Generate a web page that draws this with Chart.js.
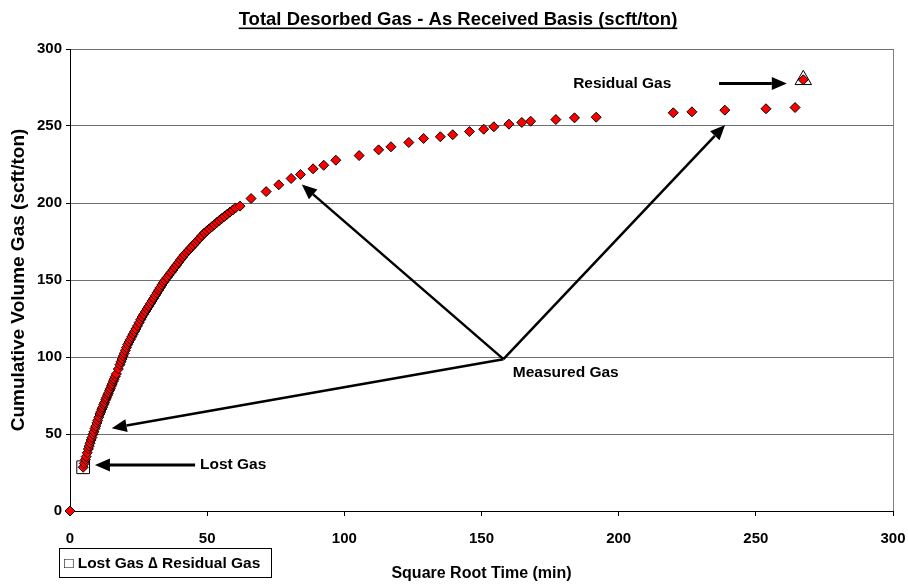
<!DOCTYPE html>
<html lang="en">
<head>
  <meta charset="UTF-8">
  <title>Total Desorbed Gas</title>
  <script src="https://cdn.jsdelivr.net/npm/chart.js"></script>
  <style>
    html, body { margin: 0; padding: 0; background: #fff; }
    #wrap { width: 908px; height: 588px; }
  </style>
</head>
<body>
<div id="wrap"><canvas id="gasChart" width="908" height="588"></canvas></div>

<script>
  // square root of time (min) and cumulative gas (scft/ton)
  const sqrtTime = [
    0, 4.8, 5.2, 5.6, 5.9, 6.3, 6.7, 7.0, 7.3, 7.7,
    8.0, 8.4, 8.7, 9.1, 9.4, 9.8, 10.1, 10.5, 10.9, 11.2,
    11.6, 11.9, 12.3, 12.6, 13.0, 13.3, 13.7, 14.0, 14.4, 14.7,
    15.1, 15.4, 15.8, 16.1, 16.5, 16.9, 17.6, 18.2, 18.6, 19.0,
    19.4, 19.8, 20.2, 20.6, 21.0, 21.5, 22.0, 22.5, 23.0, 23.5,
    24.0, 24.6, 25.2, 25.8, 26.3, 26.9, 27.5, 28.1, 28.7, 29.3,
    29.9, 30.5, 31.1, 31.7, 32.3, 32.9, 33.5, 34.1, 34.7, 35.4,
    36.1, 36.8, 37.5, 38.2, 38.9, 39.6, 40.3, 41.0, 41.7, 42.5,
    43.3, 44.1, 44.9, 45.7, 46.5, 47.3, 48.1, 49.0, 49.9, 50.8,
    51.7, 52.6, 53.5, 54.4, 55.3, 56.3, 57.3, 58.3, 59.3, 60.3,
    62.0, 66.0, 71.5, 76.1, 80.6, 84.0, 88.6, 92.5, 96.9, 105.4,
    112.5, 117.0, 123.5, 128.9, 135.0, 139.5, 145.6, 150.8, 154.5, 160.0,
    164.7, 167.9, 177.1, 183.9, 191.8, 219.9, 226.7, 238.7, 253.7, 264.3,
    267.3
  ];
  const gasVolume = [
    0, 28.4, 30.9, 33.4, 35.3, 37.8, 40.3, 42.1, 44.0, 46.1,
    47.7, 49.8, 51.4, 53.5, 55.1, 57.2, 58.8, 60.9, 63.0, 64.3,
    66.1, 67.4, 69.1, 70.4, 72.2, 73.5, 75.2, 76.5, 78.2, 79.5,
    81.2, 82.5, 84.3, 85.6, 87.3, 89.0, 92.2, 95.0, 96.9, 98.7,
    100.6, 102.4, 104.3, 106.1, 108.0, 109.7, 111.4, 113.1, 114.8, 116.5,
    118.2, 120.2, 122.3, 124.3, 126.0, 127.7, 129.5, 131.2, 132.9, 134.7,
    136.4, 138.1, 139.9, 141.6, 143.4, 145.1, 146.8, 148.5, 149.9, 151.6,
    153.2, 154.9, 156.5, 158.2, 159.8, 161.5, 163.2, 164.8, 166.4, 167.9,
    169.5, 171.0, 172.6, 174.1, 175.7, 177.2, 178.8, 180.5, 181.9, 183.2,
    184.6, 185.9, 187.3, 188.6, 189.9, 191.3, 192.7, 194.1, 195.4, 196.8,
    198.0, 202.9, 207.4, 211.8, 215.9, 218.5, 222.2, 224.5, 227.8, 230.8,
    234.5, 236.5, 239.3, 241.9, 243.0, 244.3, 246.4, 247.9, 249.5, 251.2,
    252.3, 253.1, 254.2, 255.3, 255.7, 258.6, 259.2, 260.3, 261.2, 262.0,
    280.0
  ];
  const lostGasX = [4.8];
  const lostGasY = [28.4];
  const residualGasX = [267.3];
  const residualGasY = [280.0];
  const xTicks = [0, 50, 100, 150, 200, 250, 300];
  const yTicks = [0, 50, 100, 150, 200, 250, 300];

  const FONT = "'Liberation Sans', Arial, sans-serif";

  // text + arrows drawn over the plot (positions in data units)
  const notes = {
    lost: { text: 'Lost Gas', at: [47.4, 29.9], from: [45.6, 29.9], to: [9.1, 29.9] },
    residual: { text: 'Residual Gas', at: [183.4, 277.6], from: [236.6, 277.6], to: [261.3, 277.6] },
    measured: { text: 'Measured Gas', at: [161.4, 89.7], hub: [158, 98.6],
      tips: [[15.2, 53.8], [84.5, 212], [238.8, 250.7]] }
  };

  function toPts(xs, ys) {
    return xs.map((x, i) => ({ x: x, y: ys[i] }));
  }

  function arrow(ctx, x1, y1, x2, y2, lw, hl, hw) {
    const a = Math.atan2(y2 - y1, x2 - x1);
    const bx = x2 - Math.cos(a) * hl, by = y2 - Math.sin(a) * hl;
    ctx.lineWidth = lw;
    ctx.beginPath();
    ctx.moveTo(x1, y1);
    ctx.lineTo(bx, by);
    ctx.stroke();
    ctx.beginPath();
    ctx.moveTo(x2, y2);
    ctx.lineTo(bx - Math.sin(a) * hw, by + Math.cos(a) * hw);
    ctx.lineTo(bx + Math.sin(a) * hw, by - Math.cos(a) * hw);
    ctx.closePath();
    ctx.fill();
  }

  const extras = {
    id: 'extras',
    afterDraw(chart) {
      const ctx = chart.ctx, xs = chart.scales.x, ys = chart.scales.y;
      const px = v => xs.getPixelForValue(v), py = v => ys.getPixelForValue(v);
      ctx.save();
      ctx.fillStyle = '#000';
      ctx.strokeStyle = '#000';

      // title, underlined
      const title = 'Total Desorbed Gas - As Received Basis (scft/ton)';
      ctx.font = 'bold 18.5px ' + FONT;
      ctx.textAlign = 'center';
      ctx.textBaseline = 'alphabetic';
      const tw = ctx.measureText(title).width;
      ctx.fillText(title, 458, 25);
      ctx.fillRect(458 - tw / 2, 27.5, tw, 1.6);

      // annotations
      ctx.font = 'bold 15.5px ' + FONT;
      ctx.textAlign = 'left';
      ctx.textBaseline = 'middle';
      const l = notes.lost, r = notes.residual, m = notes.measured;
      ctx.fillText(l.text, px(l.at[0]), py(l.at[1]));
      arrow(ctx, px(l.from[0]), py(l.from[1]), px(l.to[0]), py(l.to[1]), 3, 15, 6.5);
      ctx.fillText(r.text, px(r.at[0]), py(r.at[1]));
      arrow(ctx, px(r.from[0]), py(r.from[1]), px(r.to[0]), py(r.to[1]), 3, 15, 6.5);
      ctx.fillText(m.text, px(m.at[0]), py(m.at[1]));
      m.tips.forEach(t => {
        arrow(ctx, px(m.hub[0]), py(m.hub[1]), px(t[0]), py(t[1]), 2.5, 15, 6.5);
      });

      // legend box
      ctx.fillStyle = '#fff';
      ctx.fillRect(59.5, 548.5, 212, 29);
      ctx.lineWidth = 1;
      ctx.strokeRect(59.5, 548.5, 212, 29);
      ctx.fillStyle = '#000';
      ctx.font = 'bold 15.5px ' + FONT;
      ctx.textAlign = 'left';
      ctx.fillText('\u25A1 Lost Gas \u2206 Residual Gas', 64, 563.5);
      ctx.restore();
    }
  };

  new Chart(document.getElementById('gasChart').getContext('2d'), {
    type: 'scatter',
    data: {
      datasets: [
        {
          label: 'Measured Gas',
          data: toPts(sqrtTime, gasVolume),
          pointStyle: 'rectRot',
          pointRadius: 5,
          pointBackgroundColor: '#ff0000',
          pointBorderColor: '#000',
          pointBorderWidth: 1,
          clip: false,
          order: 0
        },
        {
          label: 'Lost Gas',
          data: toPts(lostGasX, lostGasY),
          pointStyle: 'rect',
          pointRadius: 9,
          pointBackgroundColor: '#fff',
          pointBorderColor: '#000',
          pointBorderWidth: 1,
          order: 1
        },
        {
          label: 'Residual Gas',
          data: toPts(residualGasX, residualGasY),
          pointStyle: 'triangle',
          pointRadius: 9.5,
          pointBackgroundColor: '#fff',
          pointBorderColor: '#000',
          pointBorderWidth: 1,
          order: 1
        }
      ]
    },
    options: {
      responsive: false,
      animation: false,
      layout: { padding: { top: 49, right: 15, left: 0, bottom: 0 } },
      plugins: {
        legend: { display: false },
        tooltip: { enabled: false },
        title: { display: false }
      },
      scales: {
        x: {
          type: 'linear',
          min: 0,
          max: 300,
          afterFit: s => { s.height = 77; s.paddingLeft = 0; s.paddingRight = 0; },
          afterBuildTicks: s => { s.ticks = xTicks.map(v => ({ value: v })); },
          grid: {
            color: c => (c.tick && c.tick.value === 300 ? '#808080' : 'rgba(0,0,0,0)'),
            tickColor: '#000',
            tickLength: 5,
            drawOnChartArea: true
          },
          border: { color: '#000', width: 1 },
          ticks: { color: '#000', padding: 14, font: { family: FONT, size: 15, weight: 'bold' } },
          title: {
            display: true,
            text: 'Square Root Time (min)',
            color: '#000',
            padding: { top: 0, bottom: 5 },
            font: { family: FONT, size: 16, weight: 'bold' }
          }
        },
        y: {
          type: 'linear',
          min: 0,
          max: 300,
          afterFit: s => { s.width = 70; s.paddingTop = 0; s.paddingBottom = 0; },
          afterBuildTicks: s => { s.ticks = yTicks.map(v => ({ value: v })); },
          grid: {
            color: '#707070',
            tickColor: '#000',
            tickLength: 4
          },
          border: { color: '#000', width: 1 },
          ticks: { color: '#000', padding: 4, font: { family: FONT, size: 15, weight: 'bold' } },
          title: {
            display: true,
            text: 'Cumulative Volume Gas (scft/ton)',
            color: '#000',
            padding: { top: 7, bottom: 0 },
            font: { family: FONT, size: 19, weight: 'bold' }
          }
        }
      }
    },
    plugins: [extras]
  });
</script>
</body>
</html>
